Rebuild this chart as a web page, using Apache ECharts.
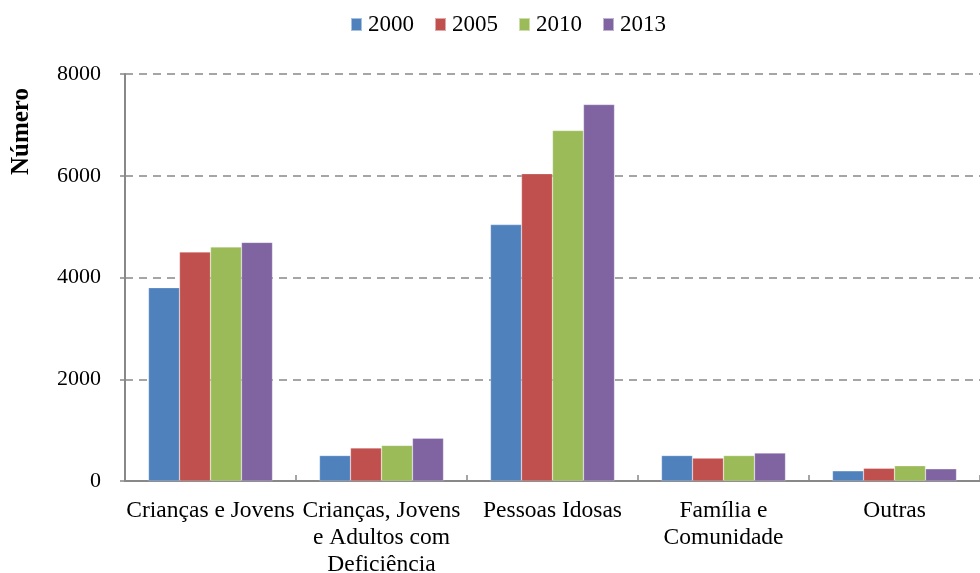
<!DOCTYPE html>
<html><head><meta charset="utf-8">
<script src="https://cdn.jsdelivr.net/npm/echarts@6/dist/echarts.min.js"></script>
<style>html,body{margin:0;padding:0;background:#fff}#c{width:980px;height:573px}</style>
</head><body><div id="c"></div>
<script>
const categories = ["Crianças e Jovens", "Crianças, Jovens\ne Adultos com\nDeficiência", "Pessoas Idosas", "Família e\nComunidade", "Outras"];
const years = ["2000", "2005", "2010", "2013"];
const v2000 = [3800, 500, 5040, 500, 200];
const v2005 = [4500, 650, 6040, 450, 250];
const v2010 = [4600, 700, 6890, 500, 300];
const v2013 = [4690, 840, 7400, 550, 240];
const yTicks = [0, 2000, 4000, 6000, 8000];
const colors = ["#4F81BD", "#C0504D", "#9BBB59", "#8064A2"];
const values = [v2000, v2005, v2010, v2013];
const font = "'Liberation Serif', 'Times New Roman', serif";

const chart = echarts.init(document.getElementById('c'), null, {renderer: 'canvas'});
chart.setOption({
  animation: false,
  textStyle: {fontFamily: font},
  legend: {
    top: 8, left: 345,
    icon: 'rect', itemWidth: 11, itemHeight: 13, itemGap: 20,
    textStyle: {fontFamily: font, fontSize: 23, color: '#000', padding: [0, 0, 0, 1]},
    data: years
  },
  grid: {left: 125, right: 0, top: 74, bottom: 92, containLabel: false, outerBoundsMode: 'none'},
  xAxis: {
    type: 'category', data: categories,
    axisLine: {lineStyle: {color: '#888', width: 2}},
    axisTick: {show: true, inside: true, length: 6, lineStyle: {color: '#888', width: 1.5}},
    axisLabel: {fontFamily: font, fontSize: 23.5, color: '#000', margin: 16, lineHeight: 27, interval: 0}
  },
  yAxis: {
    type: 'value', min: yTicks[0], max: yTicks[yTicks.length - 1], interval: 2000,
    axisLine: {show: true, lineStyle: {color: '#888', width: 2}},
    axisTick: {show: true, length: 5, lineStyle: {color: '#888', width: 1.5}},
    axisLabel: {fontFamily: font, fontSize: 22, color: '#000', margin: 24, formatter: v => String(v)},
    splitLine: {lineStyle: {color: '#888', type: [8, 6], width: 1.5}}
  },
  graphic: [{
    type: 'text', left: 9, top: 88, rotation: Math.PI / 2,
    style: {text: 'Número', fontFamily: font, fontSize: 25, fontWeight: 'bold', fill: '#000'}
  }],
  series: years.map((y, i) => ({
    name: y, type: 'bar', data: values[i],
    barWidth: 31, barGap: '0%',
    itemStyle: {color: colors[i], borderColor: 'rgba(255,255,255,0.5)', borderWidth: 0.5}
  }))
});
</script></body></html>
